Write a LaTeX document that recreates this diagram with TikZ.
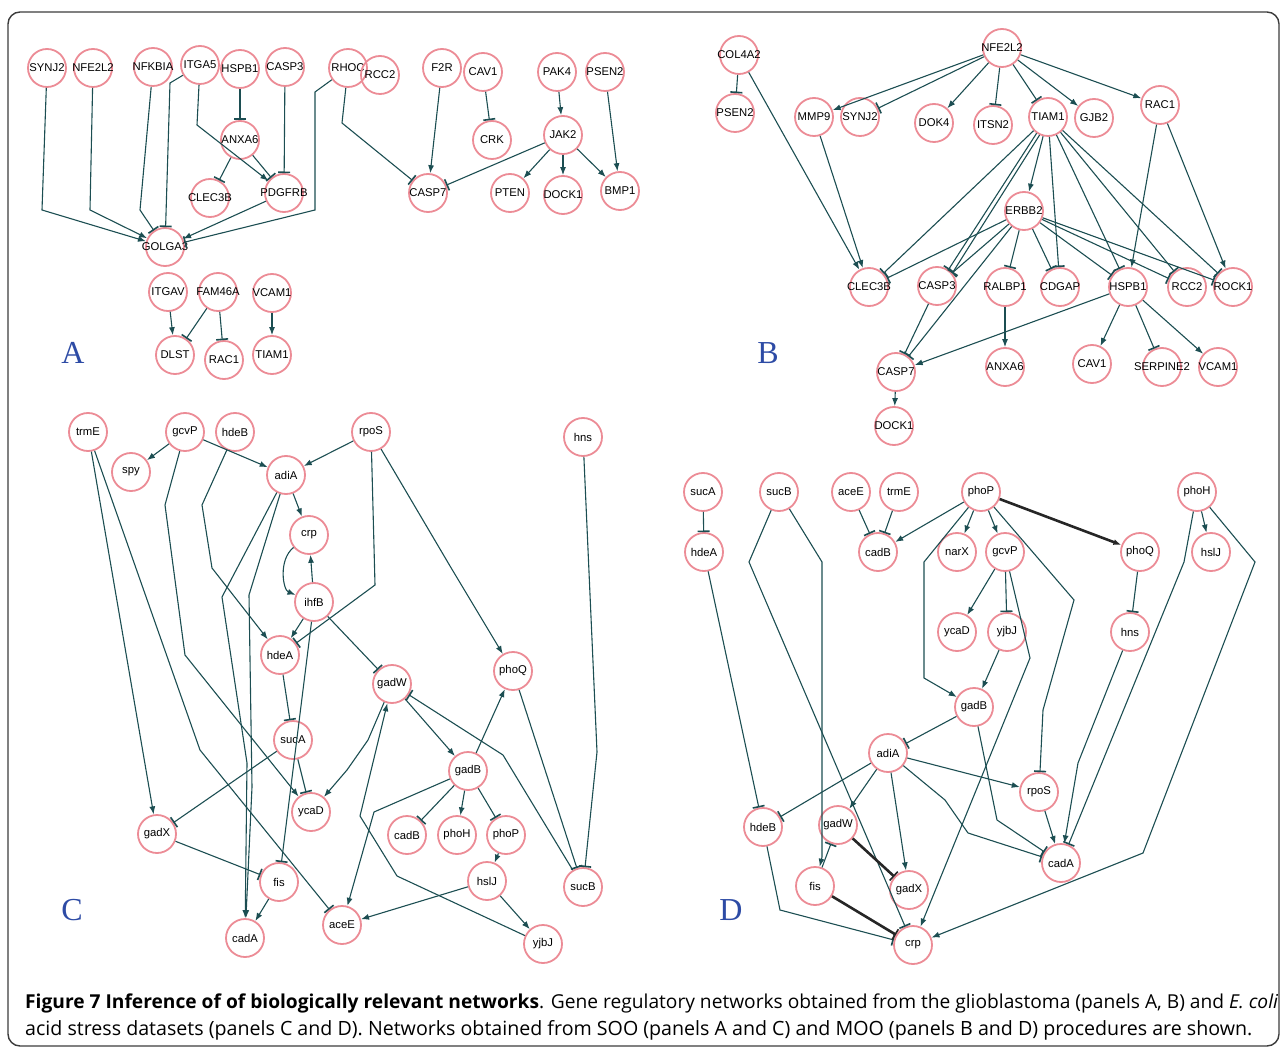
\documentclass[tikz,border=0pt]{standalone}
\usepackage{fontspec}
\setmainfont{Liberation Sans}
\newfontfamily\labf{Liberation Sans}
\newfontfamily\capf{Open Sans}
\newfontfamily\letf{Liberation Serif}
\usetikzlibrary{arrows.meta}
\definecolor{pinkc}{RGB}{236,140,150}
\definecolor{edgec}{RGB}{28,78,82}
\definecolor{letc}{RGB}{45,75,165}
\definecolor{framec}{RGB}{60,60,60}
\tikzset{
 gn/.style={circle,draw=pinkc,line width=1.8pt,minimum size=38pt,inner sep=0pt,font=\labf\fontsize{11.3}{12}\selectfont},
 act/.style={draw=edgec,line width=1.1pt,-{Latex[length=8pt,width=6pt]}},
 inh/.style={draw=edgec,line width=1.1pt,-{Bar[width=12pt,line width=1.6pt]}},
 thk/.style={line width=2.6pt,draw=black!85},
 plabel/.style={font=\letf\fontsize{32}{32}\selectfont,text=letc,inner sep=0pt},
 captxt/.style={font=\capf\fontsize{17}{20}\selectfont,inner sep=0pt,anchor=base west},
}
\newcommand\gn[4]{\node[gn] (#1) at (#2,#3) {\makebox[0pt]{#4}};}
\begin{document}
\begin{tikzpicture}[x=1pt,y=-1pt]
\useasboundingbox (0,0) rectangle (1282,1048);
\draw[framec,line width=1.4pt,rounded corners=12pt] (8,12) rectangle (1279,1046);

% ---------------- Panel A ----------------
\gn{aSYNJ2}{47}{68}{SYNJ2}
\gn{aNFE2L2}{93}{68}{NFE2L2}
\gn{aNFKBIA}{153}{67}{NFKBIA}
\gn{aITGA5}{200}{65}{ITGA5}
\gn{aHSPB1}{240}{69}{HSPB1}
\gn{aCASP3}{285}{67}{CASP3}
\gn{aRHOC}{348}{68}{RHOC}
\gn{aRCC2}{380}{75}{RCC2}
\gn{aF2R}{442}{68}{F2R}
\gn{aCAV1}{483}{72}{CAV1}
\gn{aPAK4}{557}{72}{PAK4}
\gn{aPSEN2}{605}{72}{PSEN2}
\gn{aANXA6}{240}{140}{ANXA6}
\gn{aCRK}{492}{140}{CRK}
\gn{aJAK2}{563}{135}{JAK2}
\gn{aCLEC3B}{210}{198}{CLEC3B}
\gn{aPDGFRB}{284}{193}{PDGFRB}
\gn{aCASP7}{428}{193}{CASP7}
\gn{aPTEN}{510}{193}{PTEN}
\gn{aDOCK1}{563}{195}{DOCK1}
\gn{aBMP1}{620}{191}{BMP1}
\gn{aGOLGA3}{165}{247}{GOLGA3}
\gn{aITGAV}{168}{292}{ITGAV}
\gn{aFAM46A}{218}{292}{FAM46A}
\gn{aVCAM1}{272}{293}{VCAM1}
\gn{aDLST}{175}{355}{DLST}
\gn{aRAC1}{224}{360}{RAC1}
\gn{aTIAM1}{272}{355}{TIAM1}
\node[plabel] (labA) at (73,353) {A};

\draw[act] (aSYNJ2) -- (42,210) -- (aGOLGA3);
\draw[act] (aNFE2L2) -- (90,210) -- (aGOLGA3);
\draw[inh] (aNFKBIA) -- (140,210) -- (aGOLGA3);
\draw[inh] (aITGA5) -- (170,83) -- (aGOLGA3);
\draw[act] (aITGA5) -- (197,125) -- (aPDGFRB);
\draw[inh] (aHSPB1) -- (aANXA6);
\draw[inh] (aANXA6) -- (aCLEC3B);
\draw[inh] (aANXA6) -- (aPDGFRB);
\draw[inh] (aCASP3) -- (aPDGFRB);
\draw[act] (aPDGFRB) -- (aGOLGA3);
\draw[inh] (aRHOC) -- (315,92) -- (315,210) -- (aGOLGA3);
\draw[inh] (aRHOC) -- (342,123) -- (aCASP7);
\draw[act] (aF2R) -- (aCASP7);
\draw[inh] (aCAV1) -- (aCRK);
\draw[act] (aPAK4) -- (aJAK2);
\draw[act] (aPSEN2) -- (aBMP1);
\draw[inh] (aJAK2) -- (aCASP7);
\draw[act] (aJAK2) -- (aPTEN);
\draw[act] (aJAK2) -- (aDOCK1);
\draw[act] (aJAK2) -- (aBMP1);
\draw[act] (aITGAV) -- (aDLST);
\draw[inh] (aFAM46A) -- (aDLST);
\draw[inh] (aFAM46A) -- (aRAC1);
\draw[act] (aVCAM1) -- (aTIAM1);

% ---------------- Panel B ----------------
\gn{bCOL4A2}{739}{55}{COL4A2}
\gn{bNFE2L2}{1002}{48}{NFE2L2}
\gn{bPSEN2}{735}{113}{PSEN2}
\gn{bMMP9}{814}{117}{MMP9}
\gn{bSYNJ2}{860}{117}{SYNJ2}
\gn{bDOK4}{934}{123}{DOK4}
\gn{bITSN2}{993}{125}{ITSN2}
\gn{bTIAM1}{1048}{117}{TIAM1}
\gn{bGJB2}{1094}{118}{GJB2}
\gn{bRAC1}{1160}{105}{RAC1}
\gn{bERBB2}{1024}{211}{ERBB2}
\gn{bCLEC3B}{869}{287}{CLEC3B}
\gn{bCASP3}{937}{286}{CASP3}
\gn{bRALBP1}{1005}{287}{RALBP1}
\gn{bCDGAP}{1060}{287}{CDGAP}
\gn{bHSPB1}{1128}{287}{HSPB1}
\gn{bRCC2}{1187}{287}{RCC2}
\gn{bROCK1}{1233}{287}{ROCK1}
\gn{bCASP7}{896}{372}{CASP7}
\gn{bANXA6}{1005}{367}{ANXA6}
\gn{bCAV1}{1092}{364}{CAV1}
\gn{bSERPINE2}{1162}{367}{SERPINE2}
\gn{bVCAM1}{1218}{367}{VCAM1}
\gn{bDOCK1}{894}{426}{DOCK1}
\node[plabel] (labB) at (768,353) {B};

\draw[inh] (bCOL4A2) -- (bPSEN2);
\draw[act] (bCOL4A2) -- (bCLEC3B);
\draw[act] (bNFE2L2) -- (bMMP9);
\draw[inh] (bNFE2L2) -- (bSYNJ2);
\draw[act] (bNFE2L2) -- (bDOK4);
\draw[inh] (bNFE2L2) -- (bITSN2);
\draw[inh] (bNFE2L2) -- (bTIAM1);
\draw[act] (bNFE2L2) -- (bGJB2);
\draw[act] (bNFE2L2) -- (bRAC1);
\draw[act] (bMMP9) -- (bCLEC3B);
\draw[inh] (bTIAM1) -- (bCLEC3B);
\draw[inh] (bTIAM1.235) -- (bCASP3.55);
\draw[inh] (bTIAM1.245) -- (bCASP3.40);
\draw[act] (bTIAM1) -- (bERBB2);
\draw[inh] (bTIAM1) -- (bCDGAP);
\draw[inh] (bTIAM1) -- (bHSPB1);
\draw[inh] (bTIAM1) -- (bRCC2);
\draw[inh] (bTIAM1) -- (bROCK1);
\draw[inh] (bERBB2) -- (bCLEC3B);
\draw[inh] (bERBB2) -- (bCASP3);
\draw[inh] (bERBB2) -- (bCASP7);
\draw[inh] (bERBB2) -- (bRALBP1);
\draw[inh] (bERBB2) -- (bCDGAP);
\draw[inh] (bERBB2) -- (bHSPB1);
\draw[inh] (bERBB2) -- (bRCC2);
\draw[inh] (bERBB2) -- (bROCK1);
\draw[inh] (bCASP3) -- (bCASP7);
\draw[act] (bRAC1) -- (bHSPB1);
\draw[act] (bRAC1) -- (bROCK1);
\draw[act] (bRALBP1) -- (bANXA6);
\draw[act] (bHSPB1) -- (bCASP7);
\draw[act] (bHSPB1) -- (bCAV1);
\draw[inh] (bHSPB1) -- (bSERPINE2);
\draw[act] (bHSPB1) -- (bVCAM1);
\draw[act] (bCASP7) -- (bDOCK1);

% ---------------- Panel C ----------------
\gn{ctrmE}{88}{432}{trmE}
\gn{cgcvP}{185}{432}{gcvP}
\gn{chdeB}{235}{432}{hdeB}
\gn{crpoS}{371}{432}{rpoS}
\gn{chns}{583}{437}{hns}
\gn{cspy}{131}{472}{spy}
\gn{cadiA}{286}{475}{adiA}
\gn{ccrp}{309}{535}{crp}
\gn{cihfB}{314}{602}{ihfB}
\gn{chdeA}{280}{655}{hdeA}
\gn{cgadW}{392}{684}{gadW}
\gn{cphoQ}{513}{671}{phoQ}
\gn{csucA}{293}{740}{sucA}
\gn{cgadB}{468}{771}{gadB}
\gn{cycaD}{311}{812}{ycaD}
\gn{cgadX}{157}{834}{gadX}
\gn{ccadB}{407}{835}{cadB}
\gn{cphoH}{457}{835}{phoH}
\gn{cphoP}{506}{835}{phoP}
\gn{cfis}{279}{882}{fis}
\gn{chslJ}{487}{881}{hslJ}
\gn{csucB}{583}{887}{sucB}
\gn{ccadA}{245}{938}{cadA}
\gn{caceE}{342}{925}{aceE}
\gn{cyjbJ}{543}{944}{yjbJ}
\node[plabel] (labC) at (72,910) {C};

\draw[act] (cgcvP) -- (cspy);
\draw[act] (cgcvP) -- (cadiA);
\draw[act] (crpoS) -- (cadiA);
\draw[act] (cadiA) -- (ccrp);
\draw[act] (ccrp) .. controls (278,560) and (283,590) .. (cihfB);
\draw[act] (cihfB) -- (ccrp);
\draw[act] (cihfB) -- (chdeA);
\draw[inh] (crpoS) -- (375,585) -- (chdeA);
\draw[act] (chdeB) -- (202,505) -- (212,568) -- (chdeA);
\draw[inh] (cihfB) -- (cgadW);
\draw[inh] (cihfB) -- (cfis);
\draw[act] (ctrmE) -- (cgadX);
\draw[inh] (ctrmE) -- (200,750) -- (caceE);
\draw[act] (cgcvP) -- (165,505) -- (185,655) -- (cycaD);
\draw[act] (cadiA) -- (222,597) -- (247,763) -- (ccadA);
\draw[act] (cadiA) -- (249,595) -- (252,787) -- (ccadA);
\draw[inh] (chdeA) -- (csucA);
\draw[inh] (csucA) -- (cycaD);
\draw[inh] (csucA) -- (cgadX);
\draw[inh] (cgadX) -- (cfis);
\draw[act] (cfis) -- (ccadA);
\draw[act] (cgadW) -- (368,740) -- (347,770) -- (cycaD);
\draw[act] (cyjbJ) -- (397,876) -- (360,816) -- (cgadW);
\draw[act] (cgadW) -- (cgadB);
\draw[act] (cgadB) -- (cphoQ);
\draw[act] (crpoS) -- (450,566) -- (cphoQ);
\draw[inh] (cgadB) -- (ccadB);
\draw[act] (cgadB) -- (cphoH);
\draw[inh] (cgadB) -- (cphoP);
\draw[act] (cphoP) -- (chslJ);
\draw[act] (cgadB) -- (374,812) -- (caceE);
\draw[act] (chslJ) -- (caceE);
\draw[act] (chslJ) -- (cyjbJ);
\draw[inh] (csucB) -- (503,755) -- (cgadW);
\draw[inh] (cphoQ) -- (csucB);
\draw[inh] (chns) -- (597,752) -- (csucB);

% ---------------- Panel D ----------------
\gn{dsucA}{703}{492}{sucA}
\gn{dsucB}{779}{492}{sucB}
\gn{daceE}{851}{492}{aceE}
\gn{dtrmE}{899}{492}{trmE}
\gn{dphoP}{981}{492}{phoP}
\gn{dphoH}{1197}{492}{phoH}
\gn{dhdeA}{704}{552}{hdeA}
\gn{dcadB}{878}{552}{cadB}
\gn{dnarX}{957}{552}{narX}
\gn{dgcvP}{1005}{552}{gcvP}
\gn{dphoQ}{1140}{552}{phoQ}
\gn{dhslJ}{1211}{552}{hslJ}
\gn{dycaD}{957}{632}{ycaD}
\gn{dyjbJ}{1007}{632}{yjbJ}
\gn{dhns}{1130}{632}{hns}
\gn{dgadB}{974}{707}{gadB}
\gn{dadiA}{888}{753}{adiA}
\gn{drpoS}{1039}{792}{rpoS}
\gn{dhdeB}{763}{827}{hdeB}
\gn{dgadW}{838}{825}{gadW}
\gn{dcadA}{1061}{863}{cadA}
\gn{dfis}{815}{886}{fis}
\gn{dgadX}{909}{890}{gadX}
\gn{dcrp}{913}{945}{crp}
\node[plabel] (labD) at (731,910) {D};

\draw[inh] (dsucA) -- (dhdeA);
\draw[inh] (dhdeA) -- (dhdeB);
\draw[inh] (dsucB) -- (749,562) -- (dcrp);
\draw[act] (dsucB) -- (822,562) -- (822,857) -- (dfis);
\draw[inh] (daceE) -- (dcadB);
\draw[inh] (dtrmE) -- (dcadB);
\draw[act] (dphoP) -- (dcadB);
\draw[act] (dphoP) -- (dnarX);
\draw[act] (dphoP) -- (dgcvP);
\draw[act,thk] (dphoP) -- (dphoQ);
\draw[act] (dphoP) -- (924,562) -- (924,678) -- (dgadB);
\draw[inh] (dphoP) -- (1074,600) -- (1043,710) -- (drpoS);
\draw[act] (dgcvP) -- (dycaD);
\draw[inh] (dgcvP) -- (dyjbJ);
\draw[act] (dgcvP) -- (1030,658) -- (dcrp);
\draw[act] (dyjbJ) -- (dgadB);
\draw[inh] (dphoQ) -- (dhns);
\draw[act] (dhns) -- (1078,763) -- (dcadA);
\draw[act] (dphoH) -- (dhslJ);
\draw[inh] (dphoH) -- (1184,562) -- (dcadA);
\draw[act] (dphoH) -- (1255,562) -- (1143,853) -- (dcrp);
\draw[inh] (dgadB) -- (dadiA);
\draw[inh] (dgadB) -- (997,820) -- (dcadA);
\draw[inh] (dadiA) -- (dhdeB);
\draw[act] (dadiA) -- (dgadW);
\draw[act] (dadiA) -- (dgadX);
\draw[act] (dadiA) -- (drpoS);
\draw[inh] (dadiA) -- (945,800) -- (968,833) -- (dcadA);
\draw[act] (drpoS) -- (dcadA);
\draw[inh] (dhdeB) -- (780,910) -- (dcrp);
\draw[inh,thk] (dgadW) -- (dgadX);
\draw[inh,thk] (dfis) -- (dcrp);
\draw[inh] (dfis) -- (dgadW);

% ---------------- Caption ----------------
\node[captxt] (cap1) at (25,1008) {\resizebox{1253pt}{!}{\textbf{Figure 7 Inference of of biologically relevant networks}. Gene regulatory networks obtained from the glioblastoma (panels A, B) and \textit{E. coli}}};
\node[captxt] (cap2) at (25,1035) {\resizebox{1227pt}{!}{acid stress datasets (panels C and D). Networks obtained from SOO (panels A and C) and MOO (panels B and D) procedures are shown.}};
\end{tikzpicture}
\end{document}
